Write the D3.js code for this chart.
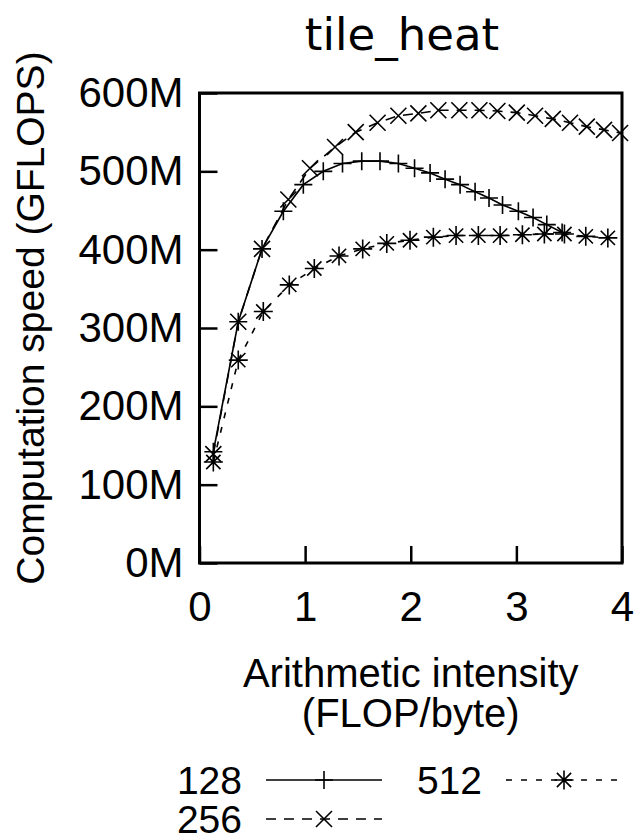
<!DOCTYPE html>
<html>
<head>
<meta charset="utf-8">
<script src="https://d3js.org/d3.v7.min.js"></script>
<style>
  body { margin: 0; background: #fff; }
  text { font-family: "Liberation Sans", Arial, sans-serif; fill: #000; }
</style>
</head>
<body>
<div id="app"></div>
<script>

// arithmetic intensity (FLOP/byte) and speed (millions) per tile size
var x128 = [0.131, 0.367, 0.592, 0.794, 0.983, 1.172, 1.354, 1.536, 1.709, 1.883, 2.036,
	    2.183, 2.325, 2.467, 2.609, 2.741, 2.869, 3.019, 3.158, 3.288, 3.433];
var y128 = [142, 308, 401, 449, 483, 500, 510, 513, 513, 510, 504,
	    498, 490, 483, 474, 466, 457, 449, 441, 432, 422];

var x256 = [0.131, 0.367, 0.592, 0.841, 1.046, 1.283, 1.479, 1.686, 1.883, 2.072, 2.261,
	    2.460, 2.650, 2.820, 3.004, 3.177, 3.345, 3.508, 3.667, 3.830, 3.982];
var y256 = [139, 308, 401, 464, 504, 531, 550, 562, 571, 574, 578,
	    578, 578, 577, 575, 571, 567, 562, 557, 553, 549];

var x512 = [0.131, 0.367, 0.604, 0.850, 1.087, 1.321, 1.545, 1.773, 1.993, 2.214, 2.429,
	    2.640, 2.846, 3.057, 3.265, 3.455, 3.657, 3.866];
var y512 = [129, 259, 321, 355, 376, 392, 401, 408, 412, 416, 418,
	    418, 418, 419, 420, 420, 417, 415];

var seriesNames = ["128", "256", "512"];
var xTicks = [0, 1, 2, 3, 4];
var yTicks = [0, 100, 200, 300, 400, 500, 600];

var chartTitle = "tile_heat";
var xLabel = ["Arithmetic intensity", "(FLOP/byte)"];
var yLabel = "Computation speed (GFLOPS)";

var plotL = 199.5, plotR = 622, plotT = 93, plotB = 563;
var tickFont = 42, labelFont = 40, keyFont = 39;

var svg = d3.select("#app")
    .append("svg")
    .attr("width", 640)
    .attr("height", 840);

var x = d3.scaleLinear().domain([0, 4]).range([plotL, plotR]);
var y = d3.scaleLinear().domain([0, 600]).range([plotB, plotT]);

// marker shapes
function plus(s) { return "M" + (-s) + ",0H" + s + "M0," + (-s) + "V" + s; }
function cross(s) { return "M" + (-s) + "," + (-s) + "L" + s + "," + s + "M" + (-s) + "," + s + "L" + s + "," + (-s); }
function star(s) { return plus(s) + cross(s * 0.75); }

var series = [
    { name: seriesNames[0], xs: x128, ys: y128, dash: null, marker: plus(9) },
    { name: seriesNames[1], xs: x256, ys: y256, dash: "10,8", marker: cross(8) },
    { name: seriesNames[2], xs: x512, ys: y512, dash: "6,9", marker: star(9.5) }
];

// axes, ticks pointing into the plot
var yAxis = d3.axisLeft(y)
    .tickValues(yTicks)
    .tickSize(-18)
    .tickPadding(16)
    .tickFormat(function (d) { return d + "M"; });

var xAxis = d3.axisBottom(x)
    .tickValues(xTicks)
    .tickSize(-17)
    .tickPadding(28)
    .tickFormat(d3.format("d"));

var gy = svg.append("g")
    .attr("transform", "translate(" + plotL + ",0)")
    .call(yAxis);

var gx = svg.append("g")
    .attr("transform", "translate(0," + plotB + ")")
    .call(xAxis);

[gx, gy].forEach(function (g) {
    g.select(".domain").remove();
    g.selectAll("line").attr("stroke", "#000").attr("stroke-width", 2.5);
    g.selectAll("text")
	.style("font-family", "Liberation Sans")
	.style("font-size", tickFont + "px")
	.attr("fill", "#000");
});

// series lines and markers
var line = d3.line()
    .x(function (d) { return x(d[0]); })
    .y(function (d) { return y(d[1]); });

series.forEach(function (s) {
    var pts = s.xs.map(function (v, i) { return [v, s.ys[i]]; });

    svg.append("path")
	.datum(pts)
	.attr("d", line)
	.attr("fill", "none")
	.attr("stroke", "#000")
	.attr("stroke-width", 1.6)
	.attr("stroke-dasharray", s.dash);

    svg.selectAll(null)
	.data(pts)
	.enter()
	.append("path")
	.attr("transform", function (d) { return "translate(" + x(d[0]) + "," + y(d[1]) + ")"; })
	.attr("d", s.marker)
	.attr("fill", "none")
	.attr("stroke", "#000")
	.attr("stroke-width", 1.6);
});

// frame
svg.append("rect")
    .attr("x", plotL)
    .attr("y", plotT)
    .attr("width", plotR - plotL)
    .attr("height", plotB - plotT)
    .attr("fill", "none")
    .attr("stroke", "#000")
    .attr("stroke-width", 3);

// title and axis labels
svg.append("text")
    .attr("x", 402)
    .attr("y", 50)
    .attr("text-anchor", "middle")
    .style("font-family", "DejaVu Sans")
    .style("font-size", "45px")
    .text(chartTitle);

svg.append("text")
    .attr("transform", "translate(44,318) rotate(-90)")
    .attr("text-anchor", "middle")
    .style("font-size", "39px")
    .text(yLabel);

svg.selectAll(".xlabel")
    .data(xLabel)
    .enter()
    .append("text")
    .attr("class", "xlabel")
    .attr("x", (plotL + plotR) / 2)
    .attr("y", function (d, i) { return 687 + i * 40; })
    .attr("text-anchor", "middle")
    .style("font-size", labelFont + "px")
    .text(function (d) { return d; });

// legend
var legendPos = [
    { tx: 242, lx: 266, ly: 780 },
    { tx: 242, lx: 266, ly: 819 },
    { tx: 482, lx: 506, ly: 780 }
];
var sampleLen = 116;

var key = svg.selectAll(".key")
    .data(series)
    .enter()
    .append("g")
    .attr("class", "key");

key.append("text")
    .attr("x", function (d, i) { return legendPos[i].tx; })
    .attr("y", function (d, i) { return legendPos[i].ly + 14; })
    .attr("text-anchor", "end")
    .style("font-size", keyFont + "px")
    .text(function (d) { return d.name; });

key.append("line")
    .attr("x1", function (d, i) { return legendPos[i].lx; })
    .attr("x2", function (d, i) { return legendPos[i].lx + sampleLen; })
    .attr("y1", function (d, i) { return legendPos[i].ly; })
    .attr("y2", function (d, i) { return legendPos[i].ly; })
    .attr("stroke", "#000")
    .attr("stroke-width", 1.6)
    .attr("stroke-dasharray", function (d) { return d.dash; });

key.append("path")
    .attr("transform", function (d, i) {
	return "translate(" + (legendPos[i].lx + sampleLen / 2) + "," + legendPos[i].ly + ")";
    })
    .attr("d", function (d) { return d.marker; })
    .attr("fill", "none")
    .attr("stroke", "#000")
    .attr("stroke-width", 1.6);

</script>
</body>
</html>
